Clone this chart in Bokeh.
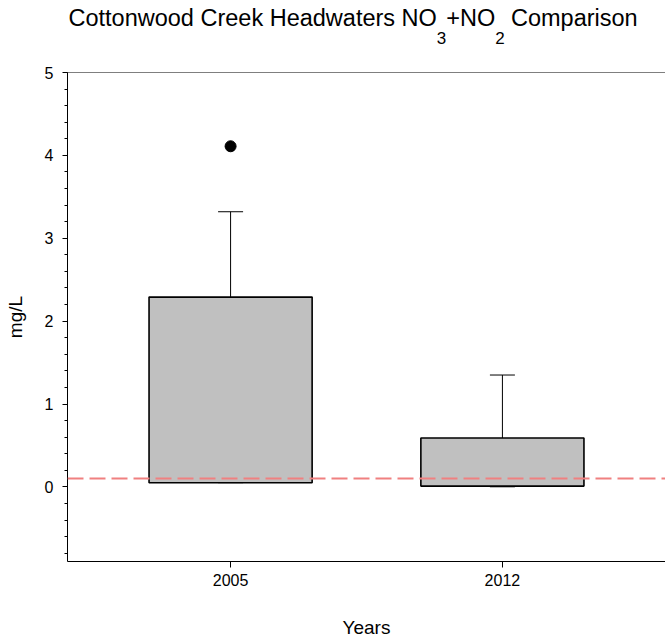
from bokeh.plotting import figure
from bokeh.layouts import column
from bokeh.models import (ColumnDataSource, FactorRange, Range1d, SingleIntervalTicker,
                          Span, Whisker, TeeHead)
from bokeh.core.properties import value
from bokeh.embed import file_html
from bokeh.resources import INLINE

# ---- data ----
years = ["2005", "2012"]
whisker_low = [0.05, 0.00]
q1 = [0.05, 0.01]
median = [0.15, 0.09]
q3 = [2.29, 0.59]
whisker_high = [3.32, 1.35]
outlier_years = ["2005"]
outlier_values = [4.11]
reference_level = 0.10
y_ticks_interval = 1

# title pieces
title_main_texts = ["Cottonwood Creek Headwaters NO", "+NO", "Comparison"]
title_sub_texts = ["3", "2"]

FONT = "Liberation Sans"
LEFT = 67
FRAME_W = 598

# ---- title strip (separate figure so subscripts can be placed) ----
TITLE_H = 56
tfig = figure(frame_width=FRAME_W, frame_height=TITLE_H,
              x_range=Range1d(LEFT, LEFT + FRAME_W), y_range=Range1d(0, TITLE_H),
              x_axis_location=None, y_axis_location=None,
              output_backend="svg", toolbar_location=None,
              min_border_left=LEFT, min_border_right=0, min_border_top=0, min_border_bottom=0)
tfig.title.visible = False
tfig.grid.grid_line_color = None
tfig.outline_line_color = None
main_x = [68, 445.7, 510.5]
main_y = [38.5] * len(title_main_texts)
sub_x = [436.3, 494.7]
sub_y = [18.5] * len(title_sub_texts)
tfig.text(x=main_x, y=main_y, text=title_main_texts, text_font=value(FONT),
          text_font_size="23.5px", text_color="black",
          text_baseline="alphabetic", text_align="left")
tfig.text(x=sub_x, y=sub_y, text=title_sub_texts, text_font=value(FONT),
          text_font_size="17px", text_color="black",
          text_baseline="alphabetic", text_align="left")

# ---- main chart ----
src = ColumnDataSource(dict(year=years, lo=whisker_low, q1=q1, med=median,
                            q3=q3, hi=whisker_high))

p = figure(x_range=FactorRange(factors=years, range_padding=0.1,
                               range_padding_units="absolute"),
           y_range=Range1d(-0.9, 5),
           frame_width=FRAME_W, frame_height=489, output_backend="svg", toolbar_location=None,
           min_border_left=LEFT, min_border_right=0, min_border_top=16,
           min_border_bottom=78)
p.title.visible = False
p.outline_line_color = None
p.xgrid.grid_line_color = None
p.ygrid.grid_line_color = None
p.background_fill_color = "white"
p.border_fill_color = "white"

# whiskers (beneath boxes)
p.add_layout(Whisker(source=src, base="year", lower="q3", upper="hi",
                     upper_head=TeeHead(size=25, line_color="black", line_width=1),
                     lower_head=None, line_color="black", line_width=1, level="underlay"))
p.add_layout(Whisker(source=src, base="year", lower="lo", upper="q1",
                     lower_head=TeeHead(size=25, line_color="#555555", line_width=1),
                     upper_head=None, line_color="black", line_width=1, level="underlay"))

# boxes
p.vbar(x="year", top="q3", bottom="q1", width=0.6, source=src,
       fill_color="#C0C0C0", line_color="black", line_width=1.6)
# medians
p.rect(x="year", y="med", width=0.6, height=0, source=src,
       fill_color=None, line_color="#222222", line_width=1.5)
# outliers
p.scatter(x=outlier_years, y=outlier_values, size=11, color="black")

# reference line
p.add_layout(Span(location=reference_level, dimension="width",
                  line_color="#F08080", line_width=2, line_dash="16 6"))
# top frame line
p.add_layout(Span(location=5, dimension="width", line_color="black", line_width=1))

# axes
xa = p.xaxis[0]
xa.axis_label = "Years"
xa.axis_label_text_font = FONT
xa.axis_label_text_font_size = "19px"
xa.axis_label_text_font_style = "normal"
xa.axis_label_text_color = "black"
xa.axis_label_standoff = 28
xa.major_label_text_font = FONT
xa.major_label_text_font_size = "16px"
xa.major_label_text_color = "black"
xa.major_label_standoff = 6
xa.major_tick_out = 6
xa.major_tick_in = 0
xa.axis_line_color = "black"
xa.major_tick_line_color = "black"

ya = p.yaxis[0]
ya.ticker = SingleIntervalTicker(interval=y_ticks_interval, num_minor_ticks=5)
ya.axis_label = "mg/L"
ya.axis_label_text_font = FONT
ya.axis_label_text_font_size = "19px"
ya.axis_label_text_font_style = "normal"
ya.axis_label_text_color = "black"
ya.axis_label_standoff = 16
ya.major_label_text_font = FONT
ya.major_label_text_font_size = "16px"
ya.major_label_text_color = "black"
ya.major_label_standoff = 9
ya.major_tick_out = 5
ya.major_tick_in = 0
ya.minor_tick_out = 3
ya.minor_tick_in = 0
ya.axis_line_color = "black"
ya.major_tick_line_color = "black"
ya.minor_tick_line_color = "black"

layout = column(tfig, p, spacing=0)
open("out.html", "w").write(file_html(layout, INLINE))
